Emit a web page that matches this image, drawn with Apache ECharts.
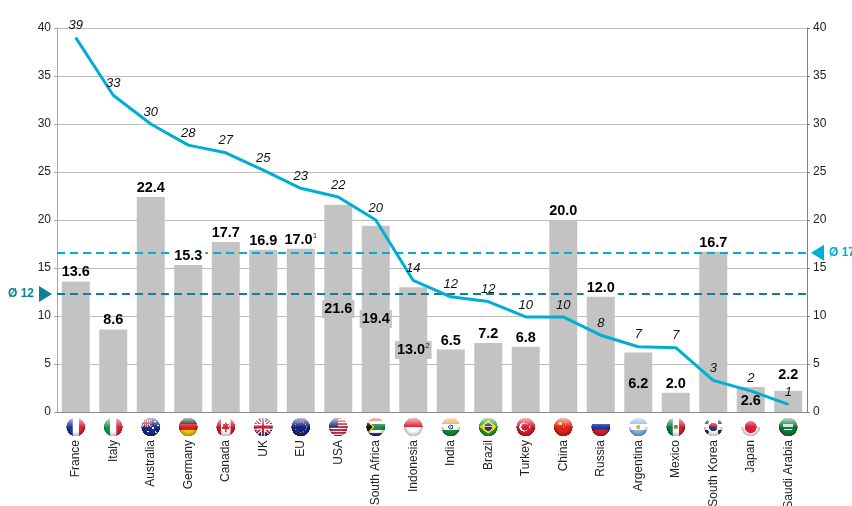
<!DOCTYPE html>
<html>
<head>
<meta charset="utf-8">
<title>G20 chart</title>
<script src="https://cdn.jsdelivr.net/npm/echarts@6/dist/echarts.min.js"></script>
<style>
html, body { margin: 0; padding: 0; background: #fff; }
#chart { width: 852px; height: 506px; }
</style>
</head>
<body>
<div id="chart"></div>
<script>
var countries = ['France', 'Italy', 'Australia', 'Germany', 'Canada', 'UK', 'EU', 'USA', 'South Africa', 'Indonesia',
    'India', 'Brazil', 'Turkey', 'China', 'Russia', 'Argentina', 'Mexico', 'South Korea', 'Japan', 'Saudi Arabia'];
var barValues = [13.6, 8.6, 22.4, 15.3, 17.7, 16.9, 17.0, 21.6, 19.4, 13.0,
    6.5, 7.2, 6.8, 20.0, 12.0, 6.2, 2.0, 16.7, 2.6, 2.2];
var barNotes = { 'EU': '1', 'Indonesia': '2' };
var lineValues = [39, 33, 30, 27.8, 27, 25.2, 23.3, 22.4, 20, 13.7,
    12, 11.5, 9.9, 9.9, 8, 6.8, 6.7, 3.3, 2.2, 0.8];
var lineLabels = ['39', '33', '30', '28', '27', '25', '23', '22', '20', '14',
    '12', '12', '10', '10', '8', '7', '7', '3', '2', '1'];
var averages = [12.3, 16.6];
var averageLabels = ['Ø 12', 'Ø 17'];
var yTicks = { min: 0, max: 40, interval: 5 };

var GREY = '#c3c3c3', CYAN = '#00aed3', TEAL = '#0f7f96', FONT = '"Liberation Sans", Arial, sans-serif';

// value labels that do not sit on top of their bar
var labelPlacement = {
    'USA': { position: 'insideBottom', distance: 94, backgroundColor: GREY, padding: [1, 2] },
    'South Africa': { position: 'insideBottom', distance: 84, backgroundColor: GREY, padding: [1, 2] },
    'Indonesia': { position: 'insideBottom', distance: 53, backgroundColor: GREY, padding: [1, 2] },
    'Argentina': { position: 'insideBottom', distance: 20 },
    'Japan': { position: 'insideBottom', distance: 3 },
    'Germany': { backgroundColor: '#fff', padding: [0, 3] },
    'Russia': { backgroundColor: '#fff', padding: [0, 3] },
    'Saudi Arabia': { distance: 8 }
};

// flag pictures, drawn once on small canvases
function stripes(c, dir, cols) {
    cols.forEach(function (col, i) {
        c.fillStyle = col;
        if (dir == 'h') c.fillRect(0, 100 * i / cols.length, 100, 100 / cols.length + 1);
        else c.fillRect(100 * i / cols.length, 0, 100 / cols.length + 1, 100);
    });
}
function disc(c, x, y, r, col) {
    c.fillStyle = col;
    c.beginPath();
    c.arc(x, y, r, 0, Math.PI * 2);
    c.fill();
}
function poly(c, pts, col) {
    c.fillStyle = col;
    c.beginPath();
    pts.forEach(function (p, i) { if (i) c.lineTo(p[0], p[1]); else c.moveTo(p[0], p[1]); });
    c.closePath();
    c.fill();
}
function rect(c, x, y, w, h, col) {
    c.fillStyle = col;
    c.fillRect(x, y, w, h);
}
function unionJack(c, x, y, w, h) {
    rect(c, x, y, w, h, '#1f2f86');
    c.save();
    c.beginPath();
    c.rect(x, y, w, h);
    c.clip();
    c.lineCap = 'butt';
    c.strokeStyle = '#fff';
    c.lineWidth = h * 0.2;
    c.beginPath();
    c.moveTo(x, y); c.lineTo(x + w, y + h);
    c.moveTo(x + w, y); c.lineTo(x, y + h);
    c.stroke();
    c.strokeStyle = '#cf1f3a';
    c.lineWidth = h * 0.08;
    c.stroke();
    rect(c, x + w * 0.4, y, w * 0.2, h, '#fff');
    rect(c, x, y + h * 0.36, w, h * 0.28, '#fff');
    rect(c, x + w * 0.45, y, w * 0.1, h, '#cf1f3a');
    rect(c, x, y + h * 0.42, w, h * 0.16, '#cf1f3a');
    c.restore();
}
var flagPainters = {
    'France': function (c) { stripes(c, 'v', ['#1b3a9e', '#ffffff', '#e0233a']); },
    'Italy': function (c) { stripes(c, 'v', ['#1f9a4c', '#ffffff', '#d8263a']); },
    'Australia': function (c) {
        rect(c, 0, 0, 100, 100, '#1b2a86');
        unionJack(c, 0, 10, 56, 38);
        [[72, 22], [88, 42], [62, 56], [76, 78], [36, 74]].forEach(function (p) { disc(c, p[0], p[1], 5, '#fff'); });
    },
    'Germany': function (c) { stripes(c, 'h', ['#111111', '#d8202a', '#f6c800']); },
    'Canada': function (c) {
        stripes(c, 'v', ['#d81f2a', '#ffffff', '#ffffff', '#d81f2a']);
        poly(c, [[50, 22], [57, 36], [66, 32], [62, 50], [72, 46], [68, 58], [54, 62], [54, 76], [46, 76], [46, 62], [32, 58], [28, 46], [38, 50], [34, 32], [43, 36]], '#d81f2a');
    },
    'UK': function (c) { unionJack(c, -5, 0, 110, 100); },
    'EU': function (c) {
        rect(c, 0, 0, 100, 100, '#14237e');
        for (var i = 0; i < 12; i++) {
            disc(c, 50 + 30 * Math.cos(i * Math.PI / 6), 50 + 30 * Math.sin(i * Math.PI / 6), 3, '#c9b83a');
        }
    },
    'USA': function (c) {
        var cols = [];
        for (var i = 0; i < 13; i++) cols.push(i % 2 ? '#ffffff' : '#c8283c');
        stripes(c, 'h', cols);
        rect(c, 0, 0, 50, 48, '#27337e');
    },
    'South Africa': function (c) {
        stripes(c, 'h', ['#d9382c', '#ffffff', '#1a8a50', '#1a8a50', '#ffffff', '#1c2f86']);
        poly(c, [[0, 10], [46, 50], [0, 90]], '#f2b81c');
        poly(c, [[0, 20], [34, 50], [0, 80]], '#111111');
    },
    'Indonesia': function (c) { stripes(c, 'h', ['#dd2030', '#ffffff']); },
    'India': function (c) {
        stripes(c, 'h', ['#f59a32', '#ffffff', '#178a3a']);
        disc(c, 50, 50, 13, '#2a3a8e');
        disc(c, 50, 50, 8, '#ffffff');
        disc(c, 50, 50, 3, '#2a3a8e');
    },
    'Brazil': function (c) {
        rect(c, 0, 0, 100, 100, '#1f9a3a');
        poly(c, [[50, 14], [96, 50], [50, 86], [4, 50]], '#f6d800');
        disc(c, 50, 50, 20, '#1c3a8a');
        rect(c, 30, 47, 40, 4, '#e8e8e8');
    },
    'Turkey': function (c) {
        rect(c, 0, 0, 100, 100, '#dc1c30');
        disc(c, 40, 50, 24, '#fff');
        disc(c, 46, 50, 19, '#dc1c30');
        poly(c, [[62, 50], [76, 42], [72, 50], [76, 58]], '#fff');
    },
    'China': function (c) {
        rect(c, 0, 0, 100, 100, '#dc2418');
        disc(c, 34, 32, 10, '#f6d020');
        [[52, 16], [60, 26], [60, 40], [52, 50]].forEach(function (p) { disc(c, p[0], p[1], 3, '#f6d020'); });
    },
    'Russia': function (c) { stripes(c, 'h', ['#ffffff', '#1c3aa8', '#d4202c']); },
    'Argentina': function (c) {
        stripes(c, 'h', ['#7ab8e8', '#ffffff', '#7ab8e8']);
        disc(c, 50, 50, 11, '#e8b030');
    },
    'Mexico': function (c) {
        stripes(c, 'v', ['#0f7f4a', '#ffffff', '#d42030']);
        disc(c, 50, 50, 12, '#a8924a');
        disc(c, 50, 46, 6, '#6f5a24');
    },
    'South Korea': function (c) {
        rect(c, 0, 0, 100, 100, '#ffffff');
        [[14, 24], [14, 76], [86, 24], [86, 76]].forEach(function (p) { disc(c, p[0], p[1], 12, '#333'); });
        disc(c, 50, 50, 22, '#d42030');
        c.fillStyle = '#1c3a8a';
        c.beginPath();
        c.arc(50, 50, 22, 0.2, Math.PI + 0.2);
        c.fill();
    },
    'Japan': function (c) {
        rect(c, 0, 0, 100, 100, '#ffffff');
        disc(c, 50, 50, 31, '#dc1c3c');
    },
    'Saudi Arabia': function (c) {
        rect(c, 0, 0, 100, 100, '#0f7a3c');
        rect(c, 24, 34, 52, 14, '#cfe8d6');
        rect(c, 28, 60, 44, 4, '#ffffff');
    }
};
function makeFlag(name) {
    var cv = document.createElement('canvas');
    cv.width = cv.height = 100;
    var c = cv.getContext('2d');
    c.save();
    c.beginPath();
    c.arc(50, 50, 49, 0, Math.PI * 2);
    c.clip();
    flagPainters[name](c);
    // round glass look: light top, dark lower edge
    var top = c.createLinearGradient(0, 0, 0, 50);
    top.addColorStop(0, 'rgba(255,255,255,0.75)');
    top.addColorStop(1, 'rgba(255,255,255,0)');
    c.fillStyle = top;
    c.fillRect(0, 0, 100, 50);
    var edge = c.createRadialGradient(50, 44, 30, 50, 50, 52);
    edge.addColorStop(0, 'rgba(0,0,0,0)');
    edge.addColorStop(1, 'rgba(0,0,0,0.32)');
    c.fillStyle = edge;
    c.fillRect(0, 50, 100, 50);
    c.restore();
    return cv;
}
var flags = countries.map(makeFlag);

var chart = echarts.init(document.getElementById('chart'), null, { renderer: 'canvas' });

var labelData = barValues.map(function (v, i) {
    var item = { value: v };
    if (labelPlacement[countries[i]]) item.label = labelPlacement[countries[i]];
    return item;
});

chart.setOption({
    animation: false,
    backgroundColor: '#fff',
    textStyle: { fontFamily: FONT },
    grid: { left: 57, right: 45, top: 28, bottom: 94, outerBoundsMode: 'none' },
    xAxis: {
        type: 'category',
        data: countries,
        axisTick: { show: false },
        axisLine: { lineStyle: { color: '#8a8a8a', width: 1 } },
        axisLabel: { rotate: 90, interval: 0, margin: 28, fontSize: 12, color: '#222', fontFamily: FONT }
    },
    yAxis: [0, 1].map(function (i) {
        return {
            type: 'value',
            position: i ? 'right' : 'left',
            min: yTicks.min,
            max: yTicks.max,
            interval: yTicks.interval,
            axisLine: { show: true, lineStyle: { color: i ? '#808080' : '#a8a8a8', width: 1 } },
            axisTick: { show: true, length: 3, lineStyle: { color: i ? '#808080' : '#a8a8a8' } },
            axisLabel: { fontSize: 12, color: '#222', margin: 6, fontFamily: FONT },
            splitLine: { show: !i, lineStyle: { color: '#bdbdbd', width: 1 } }
        };
    }),
    series: [
        {
            name: 'bars',
            type: 'bar',
            z: 2,
            barWidth: 28,
            barGap: '-100%',
            itemStyle: { color: GREY },
            data: barValues
        },
        {
            name: 'averages',
            type: 'line',
            z: 3,
            data: [],
            symbol: 'none',
            markLine: {
                z: 3,
                silent: true,
                symbol: 'none',
                label: { show: false },
                data: [
                    { yAxis: averages[0], lineStyle: { color: TEAL, type: [8, 5], width: 2 } },
                    { yAxis: averages[1], lineStyle: { color: CYAN, type: [8, 5], width: 2 } }
                ]
            }
        },
        {
            name: 'values',
            type: 'bar',
            z: 4,
            barWidth: 28,
            barGap: '-100%',
            itemStyle: { color: 'rgba(0,0,0,0)' },
            label: {
                show: true,
                position: 'top',
                distance: 1,
                formatter: function (p) {
                    var s = '{n|' + p.value.toFixed(1) + '}';
                    var note = barNotes[p.name];
                    return note ? s + '{s|' + note + '}' : s;
                },
                rich: {
                    n: { fontSize: 14.5, fontWeight: 'bold', color: '#000', fontFamily: FONT, lineHeight: 16 },
                    s: { fontSize: 8, color: '#222', fontFamily: FONT, verticalAlign: 'top', lineHeight: 16 }
                }
            },
            data: labelData
        },
        {
            name: 'rank',
            type: 'line',
            z: 5,
            data: lineValues,
            symbol: 'circle',
            symbolSize: 1,
            showAllSymbol: true,
            itemStyle: { color: CYAN },
            lineStyle: { color: CYAN, width: 3 },
            label: {
                show: true,
                position: 'top',
                distance: 5,
                fontSize: 13,
                fontStyle: 'italic',
                color: '#111',
                fontFamily: FONT,
                formatter: function (p) { return lineLabels[p.dataIndex]; }
            }
        },
        {
            name: 'flags',
            type: 'custom',
            z: 6,
            silent: true,
            data: countries.map(function (c, i) { return [i, 0]; }),
            renderItem: function (params, api) {
                var p = api.coord([api.value(0), api.value(1)]);
                return {
                    type: 'image',
                    style: { image: flags[params.dataIndex], x: p[0] - 9.5, y: p[1] + 5.5, width: 19, height: 19 }
                };
            }
        },
        {
            name: 'average markers',
            type: 'custom',
            z: 6,
            silent: true,
            data: averages.map(function (v, i) { return [0, v]; }),
            renderItem: function (params, api) {
                var i = params.dataIndex;
                var y = api.coord([0, api.value(1)])[1];
                var col = i ? CYAN : TEAL;
                var rect = params.coordSys;
                var edge = i ? rect.x + rect.width + 4 : rect.x - 18;
                var tip = i ? edge : edge + 13;
                var back = i ? edge + 13 : edge;
                return {
                    type: 'group',
                    children: [
                        {
                            type: 'polygon',
                            shape: { points: [[back, y - 8], [tip, y], [back, y + 8]] },
                            style: { fill: col }
                        },
                        {
                            type: 'text',
                            style: {
                                x: i ? back + 5 : back - 5,
                                y: y,
                                text: averageLabels[i],
                                fill: col,
                                font: 'bold 12px ' + FONT,
                                textAlign: i ? 'left' : 'right',
                                textVerticalAlign: 'middle'
                            }
                        }
                    ]
                };
            }
        }
    ]
});
</script>
</body>
</html>
